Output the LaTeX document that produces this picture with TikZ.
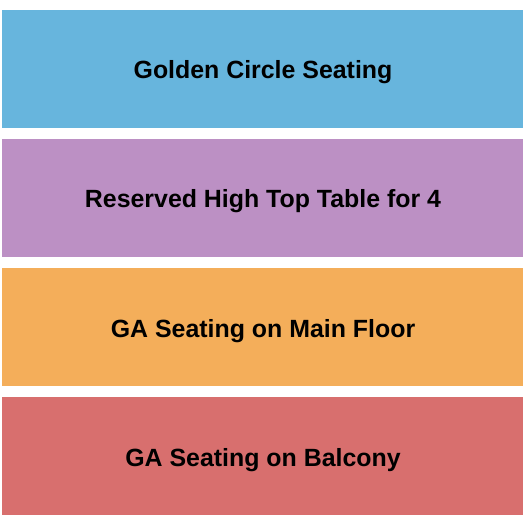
\documentclass[tikz,border=0pt]{standalone}
\usepackage{fontspec}
\setmainfont{Liberation Sans}
\definecolor{cblue}{HTML}{67B5DD}
\definecolor{cpurple}{HTML}{BC90C4}
\definecolor{corange}{HTML}{F4AE5A}
\definecolor{cred}{HTML}{D86F6E}
\begin{document}
\begin{tikzpicture}[x=1bp,y=-1bp,
  section/.style={inner sep=0pt, outer sep=0pt, minimum width=521bp, minimum height=118bp, anchor=north west},
  label/.style={inner sep=0pt, font=\bfseries\fontsize{24.9bp}{28bp}\selectfont, text=black, text depth=0pt, anchor=base}]
\useasboundingbox (0,0) rectangle (525,525);
\fill[white] (0,0) rectangle (525,525);
\node[section, fill=cblue] (gc) at (2,10) {};
\node[section, fill=cpurple] (rh) at (2,139) {};
\node[section, fill=corange] (ga) at (2,268) {};
\node[section, fill=cred] (gb) at (2,397) {};
\node[label] (gct) at (263,79) {Golden Circle Seating};
\node[label] (rht) at (263,208) {Reserved High Top Table for 4};
\node[label] (gat) at (263,337) {GA Seating on Main Floor};
\node[label] (gbt) at (263,466) {GA Seating on Balcony};
\end{tikzpicture}
\end{document}
